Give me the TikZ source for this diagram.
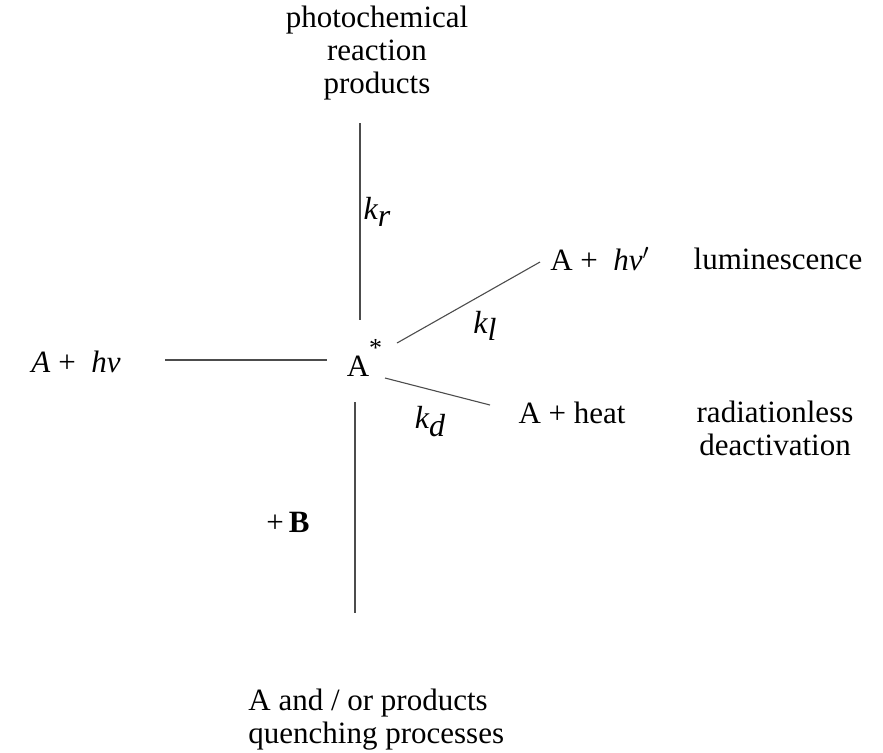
\documentclass[tikz,border=0pt]{standalone}
\usepackage{fontspec}
\setmainfont{Liberation Serif}
\begin{document}
\begin{tikzpicture}[x=0.5pt,y=-0.5pt,
  lbl/.style={inner sep=0pt,font=\fontsize{15.5}{16.5}\selectfont},
  rate/.style={inner sep=0pt,font=\fontsize{16}{17}\selectfont\itshape},
  conn/.style={draw=black!70,line width=0.55pt}]
\useasboundingbox (0,0) rectangle (883,752);
% nodes
\node[lbl,align=center] (top) at (377,53) {photochemical\\reaction\\products};
\node[lbl] (Astar) at (358,358) {A\rlap{\raisebox{1.35ex}{\fontsize{13}{14}\selectfont *}}};
\node[lbl] (left) at (76,362) {\textit{A} +\enspace \textit{hν}};
\node[lbl] (lum) at (600,259) {A +\enspace \textit{hν}$'$};
\node[lbl] (lumtxt) at (778,259) {luminescence};
\node[lbl] (heat) at (572,413) {A + heat};
\node[lbl,align=center] (rad) at (775,428) {radiationless\\deactivation};
\node[lbl] (plusB) at (288,522) {+\,\textbf{B}};
\node[lbl,align=left,anchor=west] (bottom) at (248,720) {A and / or products\\quenching processes};
\node[rate] (kr) at (377,212) {k\raisebox{-0.5ex}{r}};
\node[rate] (kl) at (485,326) {k\raisebox{-0.5ex}{l}};
\node[rate] (kd) at (430,422) {k\raisebox{-0.55ex}{d}};
% connector ends
\coordinate (t1) at (360,123);
\coordinate (t2) at (360,320);
\coordinate (h1) at (165,360);
\coordinate (h2) at (327,360);
\coordinate (l1) at (397,343);
\coordinate (l2) at (540,262);
\coordinate (d1) at (385,378);
\coordinate (d2) at (490,405);
\coordinate (b1) at (355,402);
\coordinate (b2) at (355,613);
\draw[conn] (t1) -- (t2);
\draw[conn] (h1) -- (h2);
\draw[conn] (l1) -- (l2);
\draw[conn] (d1) -- (d2);
\draw[conn] (b1) -- (b2);
\end{tikzpicture}
\end{document}
